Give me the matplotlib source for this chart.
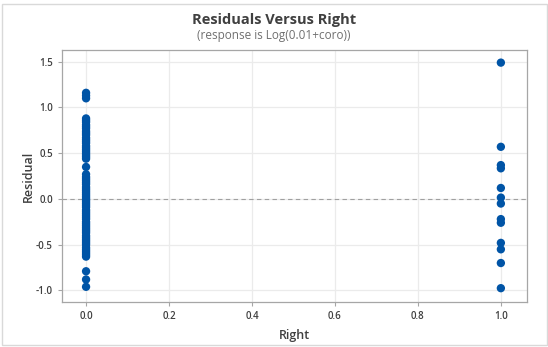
import matplotlib
matplotlib.use("Agg")
import matplotlib.pyplot as plt
from matplotlib.patches import Rectangle

# Residuals for observations with Right = 0
resid_right0 = [
    1.16, 1.13, 1.10,
    0.88, 0.86, 0.84, 0.81, 0.79, 0.77, 0.74, 0.72, 0.70, 0.67, 0.65,
    0.63, 0.61, 0.58, 0.56, 0.54, 0.52, 0.50, 0.48, 0.46, 0.44,
    0.35,
    0.27, 0.24, 0.22, 0.20, 0.18, 0.16, 0.13, 0.11, 0.09, 0.07, 0.05,
    0.03, 0.01, -0.01, -0.03, -0.05, -0.07, -0.09, -0.12, -0.14, -0.16,
    -0.18, -0.20, -0.22, -0.25, -0.27, -0.29, -0.31, -0.33, -0.35,
    -0.37, -0.40, -0.42, -0.44, -0.46, -0.48, -0.50, -0.53, -0.55,
    -0.57, -0.59, -0.61, -0.63,
    -0.79, -0.88, -0.96,
]
# Residuals for observations with Right = 1
resid_right1 = [1.49, 0.57, 0.37, 0.335, 0.12, 0.015, -0.05, -0.22, -0.26,
                -0.48, -0.55, -0.70, -0.975]

x_ticks = [0.0, 0.2, 0.4, 0.6, 0.8, 1.0]
y_ticks = [-1.0, -0.5, 0.0, 0.5, 1.0, 1.5]

title = "Residuals Versus Right"
subtitle = "(response is Log(0.01+coro))"

plt.rcParams["font.family"] = ["Open Sans", "DejaVu Sans"]

fig = plt.figure(figsize=(5.48, 3.47), dpi=100)
fig.patch.set_facecolor("white")
fig.patches.append(Rectangle((2 / 548, 2 / 347), 545 / 548, 341 / 347,
                             transform=fig.transFigure, fill=False,
                             edgecolor="#d9d9d9", linewidth=1.0))

ax = fig.add_axes([62 / 548, 1 - 302 / 347, (527 - 62) / 548, (302 - 50) / 347])

blue = "#0054A6"
ax.scatter([0.0] * len(resid_right0), resid_right0, s=36, color=blue,
           edgecolors="none", zorder=3)
ax.scatter([1.0] * len(resid_right1), resid_right1, s=36, color=blue,
           edgecolors="none", zorder=3)

ax.axhline(0.0, color="#a0a0a0", linestyle=(0, (4, 3)), linewidth=0.8, zorder=2)

ax.set_xlim(-0.058, 1.063)
ax.set_ylim(-1.126, 1.628)
ax.set_xticks(x_ticks)
ax.set_yticks(y_ticks)
ax.set_xticklabels([f"{v:.1f}" for v in x_ticks])
ax.set_yticklabels([f"{v:.1f}" for v in y_ticks])
ax.grid(True, color="#ebebeb", linewidth=0.9, zorder=0)
ax.set_axisbelow(True)

for sp in ax.spines.values():
    sp.set_color("#a6a6a6")
    sp.set_linewidth(0.9)

ax.tick_params(axis="both", colors="#a6a6a6", labelcolor="#404040",
               labelsize=7, length=3, width=0.8)
for lab in ax.get_xticklabels() + ax.get_yticklabels():
    lab.set_fontweight("semibold")

ax.set_xlabel("Right", fontsize=9, color="#404040", fontweight="semibold",
              labelpad=5)
ax.set_ylabel("Residual", fontsize=9, color="#404040", fontweight="semibold",
              labelpad=1)

fig.text(0.5, 1 - 20 / 347, title, ha="center", va="center", fontsize=10.5,
         fontweight="bold", color="#404040")
fig.text(0.5, 1 - 36 / 347, subtitle, ha="center", va="center", fontsize=8.5,
         color="#707070")

fig.savefig("out.png", dpi=100)
